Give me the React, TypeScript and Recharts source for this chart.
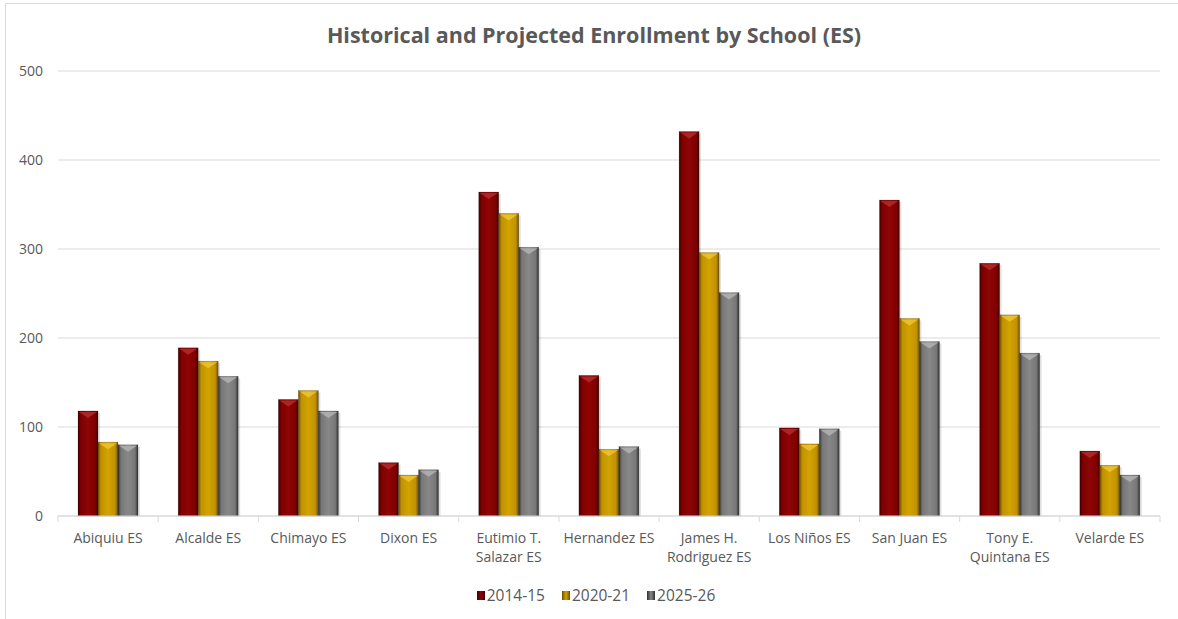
import React from "react";
import { BarChart, Bar, XAxis, YAxis, CartesianGrid } from "recharts";

const categories = [
  "Abiquiu ES",
  "Alcalde ES",
  "Chimayo ES",
  "Dixon ES",
  "Eutimio T. Salazar ES",
  "Hernandez ES",
  "James H. Rodriguez ES",
  "Los Niños ES",
  "San Juan ES",
  "Tony E. Quintana ES",
  "Velarde ES",
];
const enroll2014 = [118, 189, 131, 60, 364, 158, 432, 99, 355, 284, 73];
const enroll2020 = [83, 174, 141, 46, 340, 75, 296, 81, 222, 226, 57];
const enroll2025 = [80, 157, 118, 52, 302, 78, 251, 98, 196, 183, 46];
const seriesNames = ["2014-15", "2020-21", "2025-26"];
const yTicks = [0, 100, 200, 300, 400, 500];

const data = categories.map((c, i) => ({
  name: c,
  a: enroll2014[i],
  b: enroll2020[i],
  c: enroll2025[i],
}));

const W = 1178;
const H = 619;
const X_H = 30;
const M = { top: 71, right: 18, bottom: 103 - X_H, left: 0 };
const Y_W = 58;
const FONT = "'Open Sans', 'Noto Sans', sans-serif";
const TXT = "#595959";

const palette = [
  { id: "gRed", edge: "#400000", mid: "#7f0000", hi: "#8f0505", top: "#b83030" },
  { id: "gGold", edge: "#6e5000", mid: "#c29200", hi: "#d2a300", top: "#f0c83a" },
  { id: "gGray", edge: "#303030", mid: "#777777", hi: "#888888", top: "#b8b8b8" },
];

function wrap(label: string, max = 12): string[] {
  const words = label.split(" ");
  const lines: string[] = [];
  let cur = "";
  for (const w of words) {
    const next = cur ? cur + " " + w : w;
    if (next.length > max && cur) {
      lines.push(cur);
      cur = w;
    } else cur = next;
  }
  if (cur) lines.push(cur);
  return lines;
}

const plotW = W - M.left - M.right - Y_W;
const band = plotW / categories.length;
const base = H - 103;

const XTick = (props: any) => {
  const { x, payload, index } = props;
  const lines = wrap(payload.value);
  return (
    <g>
      <line x1={x - band / 2} x2={x - band / 2} y1={base} y2={base + 6} stroke="#d9d9d9" />
      {index === categories.length - 1 && (
        <line x1={x + band / 2} x2={x + band / 2} y1={base} y2={base + 6} stroke="#d9d9d9" />
      )}
      <text x={x} y={base + 27} textAnchor="middle" fill={TXT} fontSize={14} fontFamily={FONT}>
        {lines.map((l, i) => (
          <tspan key={i} x={x} dy={i === 0 ? 0 : 19}>
            {l}
          </tspan>
        ))}
      </text>
    </g>
  );
};

const makeShape = (p: typeof palette[number]) => (props: any) => {
  const { x, y, width, height } = props;
  if (!height || height <= 0) return null;
  const tri = Math.min(width * 0.35, height);
  return (
    <g>
      <rect x={x + 2} y={y + 2} width={width} height={height - 2} fill="rgba(0,0,0,0.12)" />
      <rect x={x} y={y} width={width} height={height} fill={`url(#${p.id})`} />
      <path
        d={`M${x + 1},${y + 1} L${x + width - 1},${y + 1} L${x + width / 2},${y + tri} Z`}
        fill={p.top}
        opacity={0.75}
      />
      <rect x={x} y={y} width={width} height={height} fill="none" stroke="rgba(0,0,0,0.25)" strokeWidth={0.6} />
    </g>
  );
};

export default function App() {
  return (
    <div style={{ position: "absolute", left: 0, top: 0, width: W, height: H, background: "#fff" }}>
      <div
        style={{
          position: "absolute",
          left: 5,
          top: 3,
          width: W,
          height: H,
          border: "1px solid #d9d9d9",
          boxSizing: "border-box",
        }}
      />
      <div
        style={{
          position: "absolute",
          left: 5,
          top: 20,
          width: W,
          textAlign: "center",
          fontFamily: FONT,
          fontWeight: 700,
          fontSize: 21.5,
          color: TXT,
          whiteSpace: "nowrap",
        }}
      >
        Historical and Projected Enrollment by School (ES)
      </div>
      <div style={{ position: "absolute", left: 0, top: 0 }}>
        <BarChart width={W} height={H} data={data} margin={M} barCategoryGap={20} barGap={0}>
          <defs>
            {palette.map((p) => (
              <linearGradient key={p.id} id={p.id} x1="0" y1="0" x2="1" y2="0">
                <stop offset="0%" stopColor={p.edge} />
                <stop offset="15%" stopColor={p.mid} />
                <stop offset="50%" stopColor={p.hi} />
                <stop offset="85%" stopColor={p.mid} />
                <stop offset="100%" stopColor={p.edge} />
              </linearGradient>
            ))}
          </defs>
          <CartesianGrid vertical={false} stroke="#d9d9d9" />
          <XAxis
            dataKey="name"
            interval={0}
            height={X_H}
            tickLine={false}
            axisLine={{ stroke: "#d9d9d9" }}
            tick={<XTick />}
          />
          <YAxis
            width={Y_W}
            domain={[0, 500]}
            ticks={yTicks}
            tickLine={false}
            axisLine={false}
            tickMargin={9}
            tick={{ fill: TXT, fontSize: 14, fontFamily: FONT }}
          />
          <Bar dataKey="a" name={seriesNames[0]} isAnimationActive={false} shape={makeShape(palette[0])} />
          <Bar dataKey="b" name={seriesNames[1]} isAnimationActive={false} shape={makeShape(palette[1])} />
          <Bar dataKey="c" name={seriesNames[2]} isAnimationActive={false} shape={makeShape(palette[2])} />
        </BarChart>
      </div>
      <div
        style={{
          position: "absolute",
          left: 0,
          top: 584,
          width: W,
          display: "flex",
          justifyContent: "center",
          gap: 17,
          fontFamily: FONT,
          fontSize: 15.5,
          color: TXT,
          paddingLeft: 14,
          boxSizing: "border-box",
        }}
      >
        {seriesNames.map((n, i) => (
          <div key={n} style={{ display: "flex", alignItems: "center" }}>
            <span
              style={{
                display: "inline-block",
                width: 8,
                height: 9,
                marginRight: 2,
                background: `linear-gradient(90deg, ${palette[i].edge}, ${palette[i].hi}, ${palette[i].edge})`,
              }}
            />
            <span>{n}</span>
          </div>
        ))}
      </div>
    </div>
  );
}
